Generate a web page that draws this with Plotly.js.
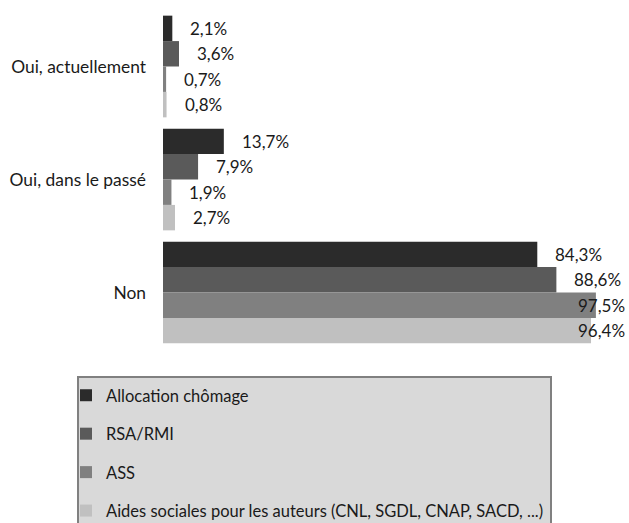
<!DOCTYPE html>
<html>
<head>
<meta charset="utf-8">
<script src="https://cdn.plot.ly/plotly-3.0.1.min.js"></script>
<style>html,body{margin:0;padding:0;background:#fff;}#chart{width:629px;height:523px;}</style>
</head>
<body>
<div id="chart"></div>
<script>
const categories = ["Oui, actuellement", "Oui, dans le passé", "Non"];
const seriesNames = ["Allocation chômage", "RSA/RMI", "ASS", "Aides sociales pour les auteurs (CNL, SGDL, CNAP, SACD, ...)"];
const allocationChomage = [2.1, 13.7, 84.3];
const rsaRmi = [3.6, 7.9, 88.6];
const ass = [0.7, 1.9, 97.5];
const aidesAuteurs = [0.8, 2.7, 96.4];
const seriesValues = [allocationChomage, rsaRmi, ass, aidesAuteurs];
const seriesColors = ["#2b2b2b", "#5a5a5a", "#808080", "#c0c0c0"];

const FONT = "Lato, 'Open Sans', sans-serif";
const bargap = 0.1;
const nSeries = seriesValues.length;
const barW = (1 - bargap) / nSeries;

const fmt = v => v.toFixed(1).replace('.', ',') + '%';

const traces = seriesValues.map((vals, j) => ({
  type: 'bar',
  orientation: 'h',
  name: seriesNames[j],
  y: categories,
  x: vals,
  marker: {color: seriesColors[j], line: {width: 0}},
  legendgroup: 'g' + j,
  hoverinfo: 'none'
}));

const annotations = [];
seriesValues.forEach((vals, j) => {
  vals.forEach((v, i) => {
    const yPos = i + (-(1 - bargap) / 2 + barW * (j + 0.5));
    const clip = v > 92;
    annotations.push({
      xref: 'x', yref: 'y',
      x: clip ? 100 : v,
      y: yPos,
      text: fmt(v),
      showarrow: false,
      xanchor: clip ? 'right' : 'left',
      yanchor: 'middle',
      xshift: clip ? 20 : 16,
      font: {family: FONT, size: 17, color: '#1a1a1a'}
    });
  });
});

const layout = {
  width: 629, height: 523,
  margin: {l: 163, r: 22, t: 10, b: 174, autoexpand: false},
  paper_bgcolor: '#ffffff',
  plot_bgcolor: '#ffffff',
  barmode: 'group',
  bargap: bargap,
  bargroupgap: 0,
  font: {family: FONT, size: 17, color: '#1a1a1a'},
  xaxis: {range: [0, 100], visible: false, fixedrange: true},
  yaxis: {
    type: 'category',
    categoryorder: 'array', categoryarray: categories,
    autorange: 'reversed',
    showgrid: false, zeroline: false, showline: false,
    ticks: '', ticklabelstandoff: 16,
    tickfont: {family: FONT, size: 17.4, color: '#1a1a1a'},
    fixedrange: true
  },
  showlegend: true,
  legend: {
    x: (66 - 163) / 444, xanchor: 'left',
    y: 1 - (378 - 10) / 339, yanchor: 'top',
    bgcolor: 'rgba(0,0,0,0)', borderwidth: 0,
    tracegroupgap: 14,
    font: {family: FONT, size: 16.5, color: '#1a1a1a'}
  },
  shapes: [{
    type: 'rect', xref: 'paper', yref: 'paper', layer: 'below',
    x0: (78 - 163) / 444, x1: (551 - 163) / 444,
    y0: 1 - (377 - 10) / 339, y1: 1 - (540 - 10) / 339,
    fillcolor: '#d9d9d9', line: {color: '#808080', width: 2}
  }],
  annotations: annotations
};

Plotly.newPlot('chart', traces, layout, {displayModeBar: false, staticPlot: true});
</script>
</body>
</html>
